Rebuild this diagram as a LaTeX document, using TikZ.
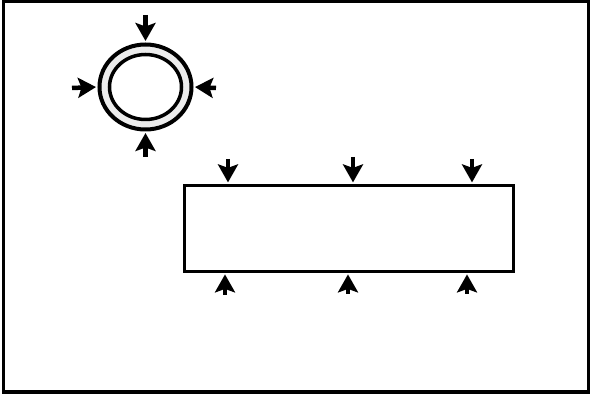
\documentclass[tikz,border=0pt]{standalone}
\usetikzlibrary{arrows.meta,shapes.geometric}
\tikzset{
  frame/.style={draw=black,line width=3.3pt},
  push/.style={line width=4.5pt,shorten >=1.5pt,arrows={-Stealth[length=18pt,width=20pt,inset=3.5pt]}},
  ringouter/.style={ellipse,draw=black,line width=4pt,fill=gray!15,inner sep=0pt,minimum width=92pt,minimum height=85pt},
  ringinner/.style={ellipse,draw=black,line width=3.5pt,fill=white,inner sep=0pt,minimum width=72pt,minimum height=65pt},
  slab/.style={rectangle,draw=black,line width=3pt,fill=white,inner sep=0pt,minimum width=329.5pt,minimum height=86pt}}
\begin{document}
\begin{tikzpicture}[x=1pt,y=-1pt]
\useasboundingbox (0,0) rectangle (592,395);
\draw[frame] (3.4,1.8) rectangle (588.5,392);
% ring
\node[ringouter] (outer) at (145.5,87) {};
\node[ringinner] (inner) at (145.5,87) {};
\coordinate (ct) at (145.5,15);
\coordinate (cb) at (145.5,157);
\coordinate (cl) at (72,88);
\coordinate (cr) at (216,88);
\draw[push] (ct) -- (outer.north);
\draw[push] (cb) -- (outer.south);
\draw[push] (cl) -- (outer.west);
\draw[push] (cr) -- (outer.east);
% slab
\node[slab] (box) at (348.8,228.4) {};
\coordinate (a1) at (228,159);
\coordinate (a2) at (353,157);
\coordinate (a3) at (472,159);
\coordinate (b1) at (225,295);
\coordinate (b2) at (348,294);
\coordinate (b3) at (467,294);
\draw[push] (a1) -- (a1 |- box.north);
\draw[push] (a2) -- (a2 |- box.north);
\draw[push] (a3) -- (a3 |- box.north);
\draw[push] (b1) -- (b1 |- box.south);
\draw[push] (b2) -- (b2 |- box.south);
\draw[push] (b3) -- (b3 |- box.south);
\end{tikzpicture}
\end{document}
